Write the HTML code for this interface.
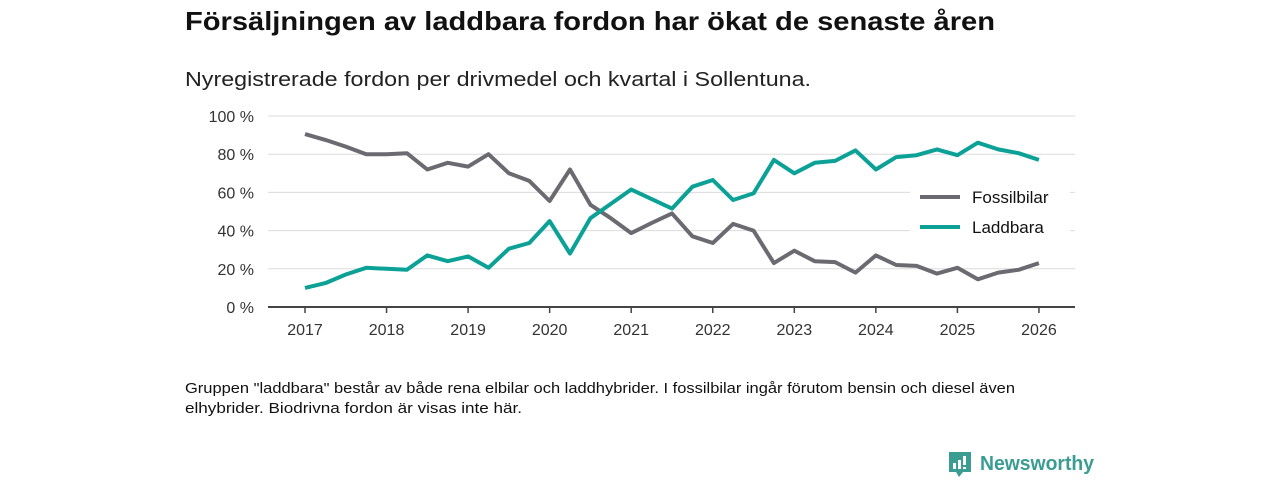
<!DOCTYPE html>
<html><head><meta charset="utf-8"><style>
html,body{margin:0;padding:0;background:#fff;width:1280px;height:480px;overflow:hidden}
svg{display:block;font-family:"Liberation Sans","DejaVu Sans",sans-serif}
</style></head><body>
<svg id="chart" width="1280" height="480">
<text x="185" y="30" font-size="26" font-weight="bold" fill="#111" textLength="810" lengthAdjust="spacingAndGlyphs">Försäljningen av laddbara fordon har ökat de senaste åren</text>
<text x="185" y="86" font-size="20" fill="#222" textLength="626" lengthAdjust="spacingAndGlyphs">Nyregistrerade fordon per drivmedel och kvartal i Sollentuna.</text>
<g id="grid"></g>
<g id="yaxis"></g>
<g id="xaxis"></g>
<g id="series"></g>
<g>
<rect x="910" y="183" width="160" height="60" fill="#fff"/>
<g><line x1="920" y1="197" x2="960" y2="197" stroke="#6b6a70" stroke-width="4"/><text x="972" y="203" font-size="17" fill="#111">Fossilbilar</text></g>
<g><line x1="920" y1="227" x2="960" y2="227" stroke="#0ba196" stroke-width="4"/><text x="972" y="233" font-size="17" fill="#111">Laddbara</text></g>
</g>
<text x="185" y="393" font-size="15" fill="#111" textLength="830" lengthAdjust="spacingAndGlyphs">Gruppen "laddbara" består av både rena elbilar och laddhybrider. I fossilbilar ingår förutom bensin och diesel även</text>
<text x="185" y="413" font-size="15" fill="#111" textLength="337" lengthAdjust="spacingAndGlyphs">elhybrider. Biodrivna fordon är visas inte här.</text>
<g>
<path d="M949 452 h22 v20 h-8 l-4 5 l-3 -5 h-7 z" fill="#3a9c92"/>
<rect x="953" y="463" width="3" height="6" fill="#fff"/><rect x="958" y="460" width="3" height="9" fill="#fff"/><rect x="963" y="456" width="3" height="9" fill="#fff"/><rect x="963" y="467" width="3" height="2" fill="#fff"/>
<text x="980" y="470" font-size="20" font-weight="bold" fill="#3a9c92" textLength="114" lengthAdjust="spacingAndGlyphs">Newsworthy</text>
</g>
</svg>
<script>
const yTicks=[0,20,40,60,80,100];
const years=[2017,2018,2019,2020,2021,2022,2023,2024,2025,2026];
const fossil=[90.5,87.5,84,80,80,80.5,72,75.5,73.5,80,70,66,55.5,72,53.5,46.5,38.7,44,49,37,33.5,43.5,40,23,29.5,24,23.5,18,27,22,21.5,17.5,20.5,14.5,18,19.5,23];
const laddbara=[10,12.5,17,20.5,20,19.5,27,24,26.5,20.5,30.5,33.5,45,28,46.5,54,61.5,56.5,51.5,63,66.5,56,59.5,77,70,75.5,76.5,82,72,78.5,79.5,82.5,79.5,86,82.5,80.5,77];
const NS="http://www.w3.org/2000/svg";
const x=t=>305+(t-2017)*81.55; // t in years
const y=v=>307-v*1.91;
function mk(tag,attrs,parent,txt){const e=document.createElementNS(NS,tag);for(const k in attrs)e.setAttribute(k,attrs[k]);if(txt!=null)e.textContent=txt;parent.appendChild(e);return e;}
const grid=document.getElementById('grid'),ya=document.getElementById('yaxis'),xa=document.getElementById('xaxis'),se=document.getElementById('series');
yTicks.forEach(v=>{
  if(v>0){const l=mk('line',{x1:268,x2:1075,y1:y(v),y2:y(v),stroke:'#dcdcdc','stroke-width':1},grid);
  
  }
  const t=mk('text',{x:254,y:y(v)+6,'font-size':16,fill:'#333','text-anchor':'end'},ya,v+' %');
  
  
});
const base=mk('line',{x1:268,x2:1075,y1:307,y2:307,stroke:'#444','stroke-width':2},xa);


years.forEach(yr=>{
  const tk=mk('line',{x1:x(yr),x2:x(yr),y1:307,y2:313,stroke:'#444','stroke-width':1.5},xa);
  
  
  const t=mk('text',{x:x(yr),y:335,'font-size':16,fill:'#333','text-anchor':'middle'},xa,yr);
  
  
});
function line(data,color,name){
  const d=data.map((v,i)=>(i?'L':'M')+x(2017+i/4).toFixed(1)+' '+y(v).toFixed(1)).join(' ');
  const p=mk('path',{d:d,fill:'none',stroke:color,'stroke-width':4,'stroke-linejoin':'round'},se);
  
  
}
line(fossil,'#6b6a70','line-fossilbilar');
line(laddbara,'#0ba196','line-laddbara');
</script>
</body></html>
